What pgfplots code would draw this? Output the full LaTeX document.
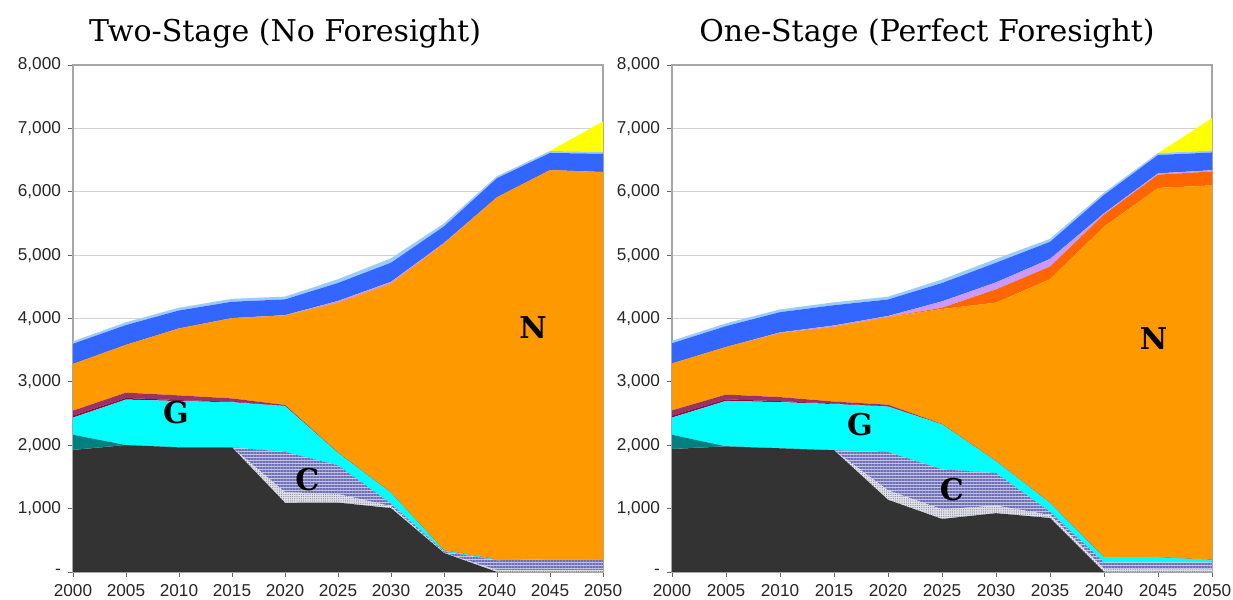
\documentclass[border=0pt]{standalone}
\usepackage{pgfplots}
\pgfplotsset{compat=1.18}
\usepackage{fontspec}
\setmainfont{Liberation Sans}
\newfontfamily\titlefont{DejaVu Serif}
\usetikzlibrary{patterns.meta}

\definecolor{coal}{HTML}{333333}
\definecolor{dotbase}{HTML}{E2E2EA}
\definecolor{dotcol}{HTML}{8A8AA0}
\definecolor{hatchbase}{HTML}{C4C4E6}
\definecolor{hatchcol}{HTML}{7070B8}
\definecolor{tealc}{HTML}{008080}
\definecolor{cyanc}{HTML}{00FFFF}
\definecolor{darkredc}{HTML}{990033}
\definecolor{maroonc}{HTML}{993366}
\definecolor{nuc}{HTML}{FF9900}
\definecolor{orred}{HTML}{FF6600}
\definecolor{lavc}{HTML}{CC99FF}
\definecolor{bluec}{HTML}{3366FF}
\definecolor{lbluec}{HTML}{99CCFF}
\definecolor{yelc}{HTML}{FFFF00}

\pgfplotsset{
  panel/.style={
    scale only axis, height=253.5pt,
    xmin=2000, xmax=2050, ymin=0, ymax=8000,
    stack plots=y,
    xtick={2000,2005,...,2050},
    xticklabels={2000,2005,2010,2015,2020,2025,2030,2035,2040,2045,2050},
    ytick={0,1000,...,8000},
    yticklabels={-,{1,000},{2,000},{3,000},{4,000},{5,000},{6,000},{7,000},{8,000}},
    tick label style={font=\fontsize{8.6}{10}\selectfont, text=black!85},
    tick align=outside, tick pos=left, major tick length=2.5pt,
    tick style={gray!80!black, line width=0.4pt},
    ymajorgrids, grid style={gray!35, line width=0.5pt},
    axis line style={gray!70, line width=0.6pt},
    clip=true,
  },
  lay/.style={draw=none, fill=#1},
  dotted area/.style={draw=none, fill=dotbase, postaction={pattern={Dots[distance=1.1pt,radius=0.32pt]}, pattern color=dotcol}},
  hatched area/.style={draw=none, fill=hatchbase, postaction={pattern={Lines[angle=0,distance=1.5pt,line width=0.7pt]}, pattern color=hatchcol}},
}
\newcommand\lbl{\titlefont\bfseries\fontsize{15}{16}\selectfont}

\begin{document}
\begin{tikzpicture}[x=1pt,y=1pt]
\useasboundingbox (0,0) rectangle (616.5,300);

% ---------------- Left panel ----------------
\begin{axis}[panel, width=265pt, at={(36.5pt,14pt)}, anchor=south west]
\addplot[lay=coal] coordinates {(2000,1925)(2005,2003)(2010,1967)(2015,1967)(2020,1092)(2025,1095)(2030,1008)(2035,300)(2040,0)(2045,0)(2050,0)} \closedcycle;
\addplot[dotted area] coordinates {(2000,0)(2005,0)(2010,0)(2015,0)(2020,168)(2025,135)(2030,30)(2035,5)(2040,30)(2045,30)(2050,30)} \closedcycle;
\addplot[hatched area] coordinates {(2000,0)(2005,0)(2010,0)(2015,0)(2020,635)(2025,453)(2030,40)(2035,15)(2040,155)(2045,160)(2050,160)} \closedcycle;
\addplot[lay=tealc] coordinates {(2000,241)(2005,0)(2010,0)(2015,0)(2020,0)(2025,0)(2030,0)(2035,0)(2040,0)(2045,0)(2050,0)} \closedcycle;
\addplot[lay=cyanc] coordinates {(2000,271)(2005,718)(2010,730)(2015,712)(2020,723)(2025,197)(2030,172)(2035,20)(2040,10)(2045,10)(2050,10)} \closedcycle;
\addplot[lay=darkredc] coordinates {(2000,30)(2005,25)(2010,15)(2015,10)(2020,5)(2025,0)(2030,0)(2035,0)(2040,0)(2045,0)(2050,0)} \closedcycle;
\addplot[lay=maroonc] coordinates {(2000,79)(2005,84)(2010,75)(2015,50)(2020,13)(2025,5)(2030,0)(2035,0)(2040,0)(2045,0)(2050,0)} \closedcycle;
\addplot[lay=nuc] coordinates {(2000,736)(2005,754)(2010,1056)(2015,1267)(2020,1412)(2025,2362)(2030,3299)(2035,4842)(2040,5718)(2045,6141)(2050,6111)} \closedcycle;
\addplot[lay=orred] coordinates {(2000,0)(2005,0)(2010,0)(2015,0)(2020,0)(2025,5)(2030,5)(2035,0)(2040,0)(2045,0)(2050,0)} \closedcycle;
\addplot[lay=lavc] coordinates {(2000,0)(2005,0)(2010,0)(2015,0)(2020,5)(2025,25)(2030,25)(2035,10)(2040,0)(2045,0)(2050,0)} \closedcycle;
\addplot[lay=bluec] coordinates {(2000,320)(2005,313)(2010,284)(2015,259)(2020,249)(2025,284)(2030,302)(2035,262)(2040,302)(2045,271)(2050,289)} \closedcycle;
\addplot[lay=lbluec] coordinates {(2000,38)(2005,43)(2010,43)(2015,45)(2020,43)(2025,59)(2030,69)(2035,46)(2040,30)(2045,30)(2050,30)} \closedcycle;
\addplot[lay=yelc] coordinates {(2000,0)(2005,0)(2010,0)(2015,0)(2020,0)(2025,0)(2030,0)(2035,0)(2040,0)(2045,0)(2050,480)} \closedcycle;
\coordinate (LN) at (axis cs:2043.4,3864);
\coordinate (LG) at (axis cs:2009.7,2508);
\coordinate (LC) at (axis cs:2022.1,1451);
\end{axis}

% ---------------- Right panel ----------------
\begin{axis}[panel, width=270pt, at={(336pt,14pt)}, anchor=south west]
\addplot[lay=coal] coordinates {(2000,1940)(2005,1982)(2010,1952)(2015,1922)(2020,1139)(2025,837)(2030,928)(2035,852)(2040,0)(2045,0)(2050,0)} \closedcycle;
\addplot[dotted area] coordinates {(2000,0)(2005,0)(2010,0)(2015,0)(2020,150)(2025,151)(2030,120)(2035,48)(2040,50)(2045,40)(2050,40)} \closedcycle;
\addplot[hatched area] coordinates {(2000,0)(2005,0)(2010,0)(2015,0)(2020,603)(2025,632)(2030,512)(2035,50)(2040,100)(2045,110)(2050,110)} \closedcycle;
\addplot[lay=tealc] coordinates {(2000,226)(2005,0)(2010,0)(2015,0)(2020,0)(2025,0)(2030,0)(2035,0)(2040,0)(2045,0)(2050,0)} \closedcycle;
\addplot[lay=cyanc] coordinates {(2000,271)(2005,718)(2010,728)(2015,728)(2020,718)(2025,710)(2030,190)(2035,140)(2040,80)(2045,80)(2050,40)} \closedcycle;
\addplot[lay=darkredc] coordinates {(2000,30)(2005,25)(2010,15)(2015,10)(2020,5)(2025,0)(2030,0)(2035,0)(2040,0)(2045,0)(2050,0)} \closedcycle;
\addplot[lay=maroonc] coordinates {(2000,83)(2005,75)(2010,65)(2015,30)(2020,25)(2025,5)(2030,0)(2035,0)(2040,0)(2045,0)(2050,0)} \closedcycle;
\addplot[lay=nuc] coordinates {(2000,740)(2005,750)(2010,1010)(2015,1180)(2020,1380)(2025,1815)(2030,2500)(2035,3530)(2040,5220)(2045,5830)(2050,5910)} \closedcycle;
\addplot[lay=orred] coordinates {(2000,0)(2005,0)(2010,0)(2015,0)(2020,5)(2025,20)(2030,210)(2035,200)(2040,190)(2045,210)(2050,220)} \closedcycle;
\addplot[lay=lavc] coordinates {(2000,0)(2005,0)(2010,10)(2015,20)(2020,15)(2025,100)(2030,110)(2035,120)(2040,20)(2045,20)(2050,20)} \closedcycle;
\addplot[lay=bluec] coordinates {(2000,320)(2005,330)(2010,320)(2015,320)(2020,260)(2025,290)(2030,310)(2035,270)(2040,290)(2045,290)(2050,280)} \closedcycle;
\addplot[lay=lbluec] coordinates {(2000,38)(2005,43)(2010,43)(2015,45)(2020,43)(2025,55)(2030,60)(2035,46)(2040,35)(2045,30)(2050,30)} \closedcycle;
\addplot[lay=yelc] coordinates {(2000,0)(2005,0)(2010,0)(2015,0)(2020,0)(2025,0)(2030,0)(2035,0)(2040,0)(2045,0)(2050,510)} \closedcycle;
\coordinate (RN) at (axis cs:2044.6,3690);
\coordinate (RG) at (axis cs:2017.4,2319);
\coordinate (RC) at (axis cs:2025.9,1293);
\end{axis}

\node[font=\lbl] at (LN) {N};
\node[font=\lbl] at (LG) {G};
\node[font=\lbl] at (LC) {C};
\node[font=\lbl] at (RN) {N};
\node[font=\lbl] at (RG) {G};
\node[font=\lbl] at (RC) {C};

\node[font=\titlefont\fontsize{15}{16}\selectfont] at (142.5,283.5) {Two-Stage (No Foresight)};
\node[font=\titlefont\fontsize{15}{16}\selectfont] at (463.5,283.5) {One-Stage (Perfect Foresight)};
\end{tikzpicture}
\end{document}
